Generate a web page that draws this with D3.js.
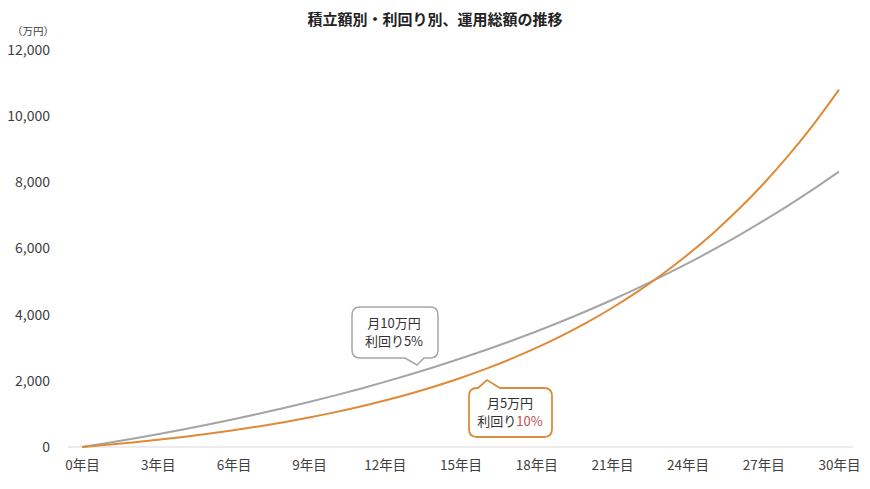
<!DOCTYPE html>
<html>
<head>
<meta charset="utf-8">
<script src="https://cdn.jsdelivr.net/npm/d3@7"></script>
<style>
  body { margin: 0; background: #fff; }
  svg { display: block; font-family: "Noto Sans CJK JP", "Noto Sans", sans-serif; }
</style>
</head>
<body>
<div id="chart"></div>
<script>
const years = d3.range(0, 31);
// 月10万円・利回り5%
const grayValues = [0, 123, 252, 388, 530, 680, 838, 1003, 1177, 1360, 1553, 1755, 1968, 2191, 2426, 2673,
  2932, 3205, 3492, 3793, 4110, 4443, 4794, 5162, 5548, 5955, 6383, 6832, 7304, 7801, 8323];
// 月5万円・利回り10%
const orangeValues = [0, 66, 138, 217, 305, 401, 507, 623, 751, 892, 1046, 1217, 1404, 1610, 1837, 2086,
  2361, 2662, 2994, 3359, 3761, 4202, 4688, 5223, 5811, 6457, 7169, 7951, 8812, 9759, 10801];
const xTicks = [0, 3, 6, 9, 12, 15, 18, 21, 24, 27, 30];
const yTicks = [0, 2000, 4000, 6000, 8000, 10000, 12000];

const width = 870, height = 489;

const svg = d3.select("#chart").append("svg")
  .attr("width", width)
  .attr("height", height);

const x = d3.scaleLinear().domain([0, 30]).range([82, 839]);
const y = d3.scaleLinear().domain([0, 12000]).range([447, 50]);

// title
svg.append("text")
  .attr("x", 435).attr("y", 25)
  .attr("text-anchor", "middle")
  .style("font-size", "15px")
  .style("font-weight", "bold")
  .attr("fill", "#222")
  .text("積立額別・利回り別、運用総額の推移");

// unit
svg.append("text")
  .attr("x", 33).attr("y", 35)
  .attr("text-anchor", "middle")
  .style("font-size", "10.5px")
  .attr("fill", "#404040")
  .text("（万円）");

// y axis labels
svg.append("g")
  .attr("transform", "translate(50,0)")
  .call(d3.axisLeft(y).tickValues(yTicks).tickFormat(d3.format(",")).tickSize(0).tickPadding(0))
  .call(g => g.select(".domain").remove())
  .call(g => g.selectAll("text")
    .attr("fill", "#404040")
    .style("font-size", "14px")
    .style("font-family", "'Noto Sans CJK JP', sans-serif"));

// baseline
svg.append("line")
  .attr("x1", 68).attr("x2", 853)
  .attr("y1", y(0)).attr("y2", y(0))
  .attr("stroke", "#D9D9D9")
  .attr("stroke-width", 1);

// x axis labels
svg.append("g")
  .attr("transform", `translate(0,${y(0)})`)
  .call(d3.axisBottom(x).tickValues(xTicks).tickFormat(d => d + "年目").tickSize(0).tickPadding(13))
  .call(g => g.select(".domain").remove())
  .call(g => g.selectAll("text")
    .attr("fill", "#404040")
    .style("font-size", "13.5px")
    .style("font-family", "'Noto Sans CJK JP', sans-serif"));

const line = d3.line()
  .x((d, i) => x(years[i]))
  .y(d => y(d))
  .curve(d3.curveMonotoneX);

svg.append("path")
  .datum(grayValues)
  .attr("fill", "none")
  .attr("stroke", "#A5A5A5")
  .attr("stroke-width", 2)
  .attr("d", line);

svg.append("path")
  .datum(orangeValues)
  .attr("fill", "none")
  .attr("stroke", "#DF8A38")
  .attr("stroke-width", 2)
  .attr("d", line);

// callout boxes
function calloutDown(x0, y0, w, h, tipX, tipY, baseL, baseR, r) {
  const p = d3.path();
  p.moveTo(x0 + r, y0);
  p.lineTo(x0 + w - r, y0);
  p.quadraticCurveTo(x0 + w, y0, x0 + w, y0 + r);
  p.lineTo(x0 + w, y0 + h - r);
  p.quadraticCurveTo(x0 + w, y0 + h, x0 + w - r, y0 + h);
  p.lineTo(baseR, y0 + h);
  p.lineTo(tipX, tipY);
  p.lineTo(baseL, y0 + h);
  p.lineTo(x0 + r, y0 + h);
  p.quadraticCurveTo(x0, y0 + h, x0, y0 + h - r);
  p.lineTo(x0, y0 + r);
  p.quadraticCurveTo(x0, y0, x0 + r, y0);
  p.closePath();
  return p.toString();
}
function calloutUp(x0, y0, w, h, tipX, tipY, baseL, baseR, r) {
  const p = d3.path();
  p.moveTo(x0 + r, y0);
  p.lineTo(baseL, y0);
  p.lineTo(tipX, tipY);
  p.lineTo(baseR, y0);
  p.lineTo(x0 + w - r, y0);
  p.quadraticCurveTo(x0 + w, y0, x0 + w, y0 + r);
  p.lineTo(x0 + w, y0 + h - r);
  p.quadraticCurveTo(x0 + w, y0 + h, x0 + w - r, y0 + h);
  p.lineTo(x0 + r, y0 + h);
  p.quadraticCurveTo(x0, y0 + h, x0, y0 + h - r);
  p.lineTo(x0, y0 + r);
  p.quadraticCurveTo(x0, y0, x0 + r, y0);
  p.closePath();
  return p.toString();
}

function label(cx, cy, parts) {
  const t = svg.append("text")
    .attr("x", cx).attr("y", cy)
    .attr("text-anchor", "middle")
    .style("font-size", "13px")
    .attr("fill", "#333");
  parts.forEach(p => t.append("tspan").attr("fill", p.color || null).text(p.text));
}

svg.append("path")
  .attr("d", calloutDown(352, 307, 86, 51, 417, 365, 405, 424, 8))
  .attr("fill", "#fff")
  .attr("stroke", "#A6A6A6")
  .attr("stroke-width", 1.5);
label(394, 328, [{ text: "月10万円" }]);
label(394, 346, [{ text: "利回り5%" }]);

svg.append("path")
  .attr("d", calloutUp(469, 388, 83, 49, 487, 380, 478, 500, 8))
  .attr("fill", "#fff")
  .attr("stroke", "#D98E3E")
  .attr("stroke-width", 1.8);
label(510, 408, [{ text: "月5万円" }]);
label(510, 426, [{ text: "利回り" }, { text: "10%", color: "#C0504D" }]);
</script>
</body>
</html>
